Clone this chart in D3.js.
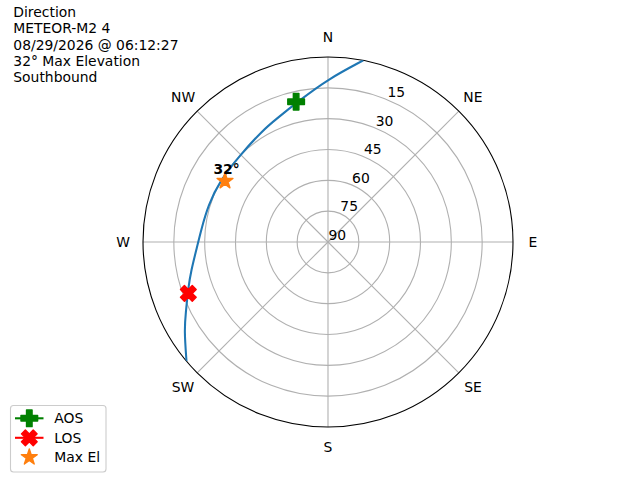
<!DOCTYPE html>
<html><head><meta charset="utf-8">
<script src="https://cdn.jsdelivr.net/npm/d3@7"></script>
<style>body{margin:0;background:#fff} text{font-family:"DejaVu Sans",sans-serif;fill:#000}</style>
</head><body><svg id="c" width="640" height="480"></svg>
<script>
const titleLines = ["Direction", "METEOR-M2 4", "08/29/2026 @ 06:12:27", "32° Max Elevation", "Southbound"];
const compassLabels = ["N", "NE", "E", "SE", "S", "SW", "W", "NW"];
const compassAz = [0, 45, 90, 135, 180, 225, 270, 315];
const ringEl = [90, 75, 60, 45, 30, 15];
const ringLabels = ["90", "75", "60", "45", "30", "15"];
// pass track (azimuth deg, elevation deg)
const trackAz = [11.0, 0, 348.8, 336.5, 330, 314.7, 299.6, 287.2, 275.4, 266.5, 258.4, 252.1, 243.4, 238.5, 229.9];
const trackEl = [0, 10.8, 19.6, 25.3, 27.0, 29.8, 29.6, 29.0, 28.0, 25.8, 22.1, 18.6, 12.6, 8.0, 0];
const aosAz = 347.2, aosEl = 20.0;
const losAz = 249.8, losEl = 17.6;
const maxAz = 300.6, maxEl = 31.8;
const maxLabel = "32°";
const legendLabels = ["AOS", "LOS", "Max El"];

const svg = d3.select("#c");
const cx = 328, cy = 242, R = 185;
const rScale = d3.scaleLinear().domain([90, 0]).range([0, R]);
const aScale = d3.scaleLinear().domain([0, 360]).range([0, 2 * Math.PI]);
const g = svg.append("g").attr("transform", `translate(${cx},${cy})`);

// grid rings
g.selectAll("circle.ring").data(ringEl.filter(e => e < 90)).join("circle")
  .attr("r", d => rScale(d)).attr("fill", "none").attr("stroke", "#b0b0b0").attr("stroke-width", 1.1);
// spokes
g.selectAll("line.spoke").data(compassAz).join("line")
  .attr("x1", 0).attr("y1", 0)
  .attr("x2", d => d3.pointRadial(aScale(d), R)[0])
  .attr("y2", d => d3.pointRadial(aScale(d), R)[1])
  .attr("stroke", "#b0b0b0").attr("stroke-width", 1.1);
// outer
g.append("circle").attr("r", rScale(0)).attr("fill", "none").attr("stroke", "#000").attr("stroke-width", 1.1);

// radial labels
g.selectAll("text.rl").data(ringEl).join("text")
  .attr("x", d => d3.pointRadial(aScale(22.5), rScale(d))[0] + 0.5)
  .attr("y", d => d3.pointRadial(aScale(22.5), rScale(d))[1] - 2.5)
  .attr("font-size", 13.9).text((d, i) => ringLabels[i]);

// compass labels
g.selectAll("text.cl").data(compassAz).join("text")
  .attr("x", d => d3.pointRadial(aScale(d), R + 20)[0])
  .attr("y", d => d3.pointRadial(aScale(d), R + 20)[1])
  .attr("text-anchor", "middle").attr("dominant-baseline", "central")
  .attr("font-size", 13.9).text((d, i) => compassLabels[i]);

// track
const track = trackAz.map((a, i) => ({ az: a < 180 ? a + 360 : a, el: trackEl[i] }));
svg.append("clipPath").attr("id", "cp").append("circle").attr("cx", 0).attr("cy", 0).attr("r", R);
g.append("path").datum(track)
  .attr("d", d3.lineRadial().angle(d => aScale(d.az)).radius(d => rScale(d.el)).curve(d3.curveBasis))
  .attr("fill", "none").attr("stroke", "#1f77b4").attr("stroke-width", 2.08)
  .attr("clip-path", "url(#cp)");

// marker shapes
const S = 8.33;
function plusPath(s) {
  const a = s / 3;
  return `M${-a},${-s}H${a}V${-a}H${s}V${a}H${a}V${s}H${-a}V${a}H${-s}V${-a}H${-a}Z`;
}
function starPath(s) {
  const pts = [];
  for (let i = 0; i < 10; i++) {
    const r = i % 2 === 0 ? s : s * 0.381966;
    const ang = i * Math.PI / 5;
    pts.push([r * Math.sin(ang), -r * Math.cos(ang)]);
  }
  return "M" + pts.map(p => p.join(",")).join("L") + "Z";
}
function drawMarker(sel, kind, x, y) {
  if (kind === "aos") {
    sel.append("path").attr("d", plusPath(S)).attr("transform", `translate(${x},${y})`)
      .attr("fill", "#008000").attr("stroke", "#008000").attr("stroke-width", 1.4).attr("stroke-linejoin", "round");
  } else if (kind === "los") {
    sel.append("path").attr("d", plusPath(S)).attr("transform", `translate(${x},${y}) rotate(45)`)
      .attr("fill", "#ff0000").attr("stroke", "#ff0000").attr("stroke-width", 1.4).attr("stroke-linejoin", "round");
  } else {
    sel.append("path").attr("d", starPath(S)).attr("transform", `translate(${x},${y})`)
      .attr("fill", "#ff7f0e").attr("stroke", "#ff7f0e").attr("stroke-width", 1.4).attr("stroke-linejoin", "round");
  }
}
const pA = d3.pointRadial(aScale(aosAz), rScale(aosEl));
const pL = d3.pointRadial(aScale(losAz), rScale(losEl));
const pM = d3.pointRadial(aScale(maxAz), rScale(maxEl));
drawMarker(g, "aos", pA[0], pA[1]);
drawMarker(g, "los", pL[0], pL[1]);
drawMarker(g, "max", pM[0], pM[1]);
g.append("text").attr("x", pM[0] + 1.5).attr("y", pM[1] - 7.5).attr("text-anchor", "middle")
  .attr("font-size", 13.9).attr("font-weight", "bold").text(maxLabel);

// title
svg.selectAll("text.title").data(titleLines).join("text")
  .attr("x", 13.3).attr("y", (d, i) => 17.3 + i * 16.1).attr("font-size", 13.9).text(d => d);

// legend
const lg = svg.append("g");
lg.append("rect").attr("x", 10.5).attr("y", 405.5).attr("width", 95.5).attr("height", 66.5).attr("rx", 3)
  .attr("fill", "#fff").attr("fill-opacity", 0.8).attr("stroke", "#cccccc").attr("stroke-width", 1.1);
const kinds = ["aos", "los", "max"];
const lineCols = ["#008000", "#ff0000", null];
legendLabels.forEach((lab, i) => {
  const y = 418.3 + i * 19.5;
  if (lineCols[i]) lg.append("line").attr("x1", 15).attr("x2", 43.5).attr("y1", y).attr("y2", y)
    .attr("stroke", lineCols[i]).attr("stroke-width", 2.08);
  drawMarker(lg, kinds[i], 29.3, y);
  lg.append("text").attr("x", 54.3).attr("y", y + 5).attr("font-size", 13.9).text(lab);
});
</script></body></html>
